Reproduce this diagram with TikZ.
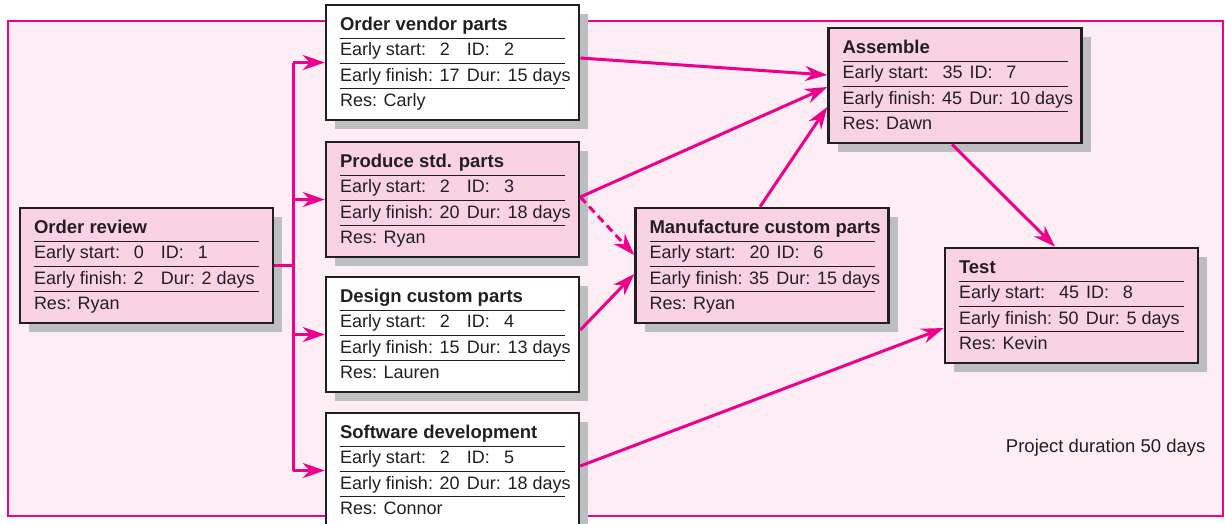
\documentclass[tikz,border=0pt]{standalone}
\usepackage{fontspec}
\setmainfont{Liberation Sans}
\usepackage{array}
\usepackage{colortbl}
\usetikzlibrary{arrows.meta,shadows}

\definecolor{magenta}{HTML}{EC008C}
\definecolor{bgpink}{HTML}{FDEDF4}
\definecolor{boxpink}{HTML}{F9D3E3}
\definecolor{shadowgray}{HTML}{BCBEC0}
\definecolor{ink}{HTML}{231F20}

% contents of one task card
\newcommand{\taskinfo}[6]{%
  \setlength{\arrayrulewidth}{1pt}%
  \arrayrulecolor{ink}%
  \begin{tabular}{@{}l@{}l@{}}
    \multicolumn{2}{@{}l@{}}{\rule{0pt}{19pt}\makebox[225pt][l]{\fontsize{18.5}{24.4}\selectfont\bfseries #1}}\\ \hline
    \makebox[127pt][l]{\makebox[100pt][l]{Early start:}#2} & \makebox[98pt][l]{\makebox[37pt][l]{ID:}#3}\\ \hline
    \makebox[127pt][l]{Early finish: #4} & \makebox[98pt][l]{Dur: #5 days}\\ \hline
    \makebox[127pt][l]{Res: #6} & \makebox[98pt][l]{}
  \end{tabular}}

\begin{document}
\begin{tikzpicture}[x=1pt, y=-1pt,
    task/.style={draw=ink, line width=2.5pt, fill=white, text=ink,
      minimum width=253pt, minimum height=115pt, inner xsep=14pt, inner ysep=4pt,
      font=\fontsize{18}{24.4}\selectfont,
      drop shadow={shadow xshift=9pt, shadow yshift=-9pt, fill=shadowgray, opacity=1}},
    crit/.style={task, fill=boxpink},
    flow/.style={magenta, line width=3pt},
    tip/.style={-{Stealth[length=22pt, width=15pt, inset=7pt]}}]
  \useasboundingbox (0,0) rectangle (1225,523);
  \clip (0,0) rectangle (1225,523);

  % Frame
  \draw[magenta, line width=2.5pt, fill=bgpink] (8,21) rectangle (1223,516);

  % Task cards
  \node[crit] (review) at (146.5,265.5) {\taskinfo{Order review}{0}{1}{2}{2}{Ryan}};
  \node[task] (vendor) at (452.5,62.5) {\taskinfo{Order vendor parts}{2}{2}{17}{15}{Carly}};
  \node[crit] (produce) at (452.5,199.5) {\taskinfo{Produce std. parts}{2}{3}{20}{18}{Ryan}};
  \node[task] (design) at (452.5,334.5) {\taskinfo{Design custom parts}{2}{4}{15}{13}{Lauren}};
  \node[task] (software) at (452.5,470.5) {\taskinfo{Software development}{2}{5}{20}{18}{Connor}};
  \node[crit] (manufacture) at (762,265.5) {\taskinfo{Manufacture custom parts}{20}{6}{35}{15}{Ryan}};
  \node[crit] (assemble) at (955,85.5) {\taskinfo{Assemble}{35}{7}{45}{10}{Dawn}};
  \node[crit] (test) at (1071.5,305.5) {\taskinfo{Test}{45}{8}{50}{5}{Kevin}};

  % Fork out of the first task
  \coordinate (fork) at (293,0);
  \draw[flow] (review.east) -- (review.east -| fork);
  \draw[flow] (fork |- vendor.west) -- (fork |- software.west);
  \foreach \t in {vendor, produce, design, software} {
    \draw[flow, tip] (fork |- \t.west) -- (\t.west);
  }

  % Links between tasks
  \draw[flow, tip] ([yshift=4.5pt]vendor.east) -- ([yshift=10.5pt]assemble.west);
  \draw[flow, tip] ([yshift=2.5pt]produce.east) -- ([yshift=-1.5pt]assemble.west);
  \draw[flow, tip, dash pattern=on 8pt off 5pt] ([yshift=2.5pt]produce.east) -- ([yshift=10.5pt]manufacture.west);
  \draw[flow, tip] ([yshift=4.5pt]design.east) -- ([yshift=-8.5pt]manufacture.west);
  \draw[flow, tip] ([xshift=-2pt]manufacture.north) -- ([yshift=-21.5pt]assemble.west);
  \draw[flow, tip] ([xshift=-3pt]assemble.south) -- ([xshift=-16.5pt]test.north);
  \draw[flow, tip] ([yshift=4.5pt]software.east) -- ([yshift=-22.5pt]test.west);

  % Total duration
  \node[anchor=base east, text=ink, font=\fontsize{18.5}{22}\selectfont] (duration) at (1209,452) {Project duration 50 days};
\end{tikzpicture}
\end{document}
